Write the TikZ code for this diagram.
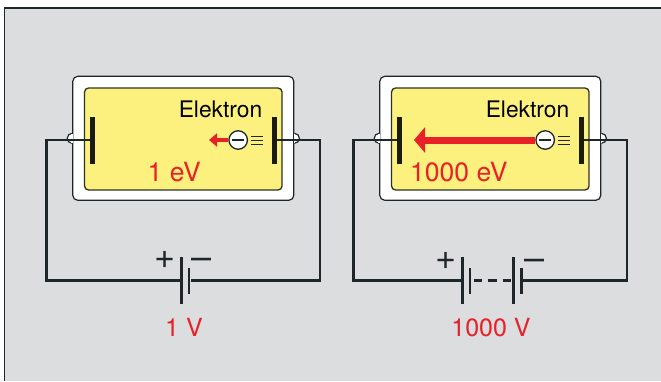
\documentclass[tikz,border=0pt]{standalone}
\usepackage{fontspec}
\setmainfont{TeX Gyre Heros}
\usetikzlibrary{arrows.meta,%
                backgrounds,positioning,%
                calc%
              }
\definecolor{panelgray}{HTML}{DCDDDF}
\definecolor{gapyellow}{HTML}{FCF17F}
\definecolor{evred}{HTML}{E82129}
\definecolor{wirec}{HTML}{1F2629}
\definecolor{platec}{HTML}{1A1A0D}

\def\cells{{(181.7,280.5)/L/1/46.5},%
  {(189,280.5)/L/2/26},%
%
  {(462.7,280.5)/R/1/46.5}, {(470,280.5)/R/2/26},%
  {(513.3,280.5)/R/3/46.5}, {(521.7,280.5)/R/4/26}%
}
\def\panels{%  \dx/\p/\energy/\ex/\tip/\aw/\al/\ah/\last/\volt
  {0/L/1 eV/147.5/209/4.5/8/13/L-b2/1 V},%
  {307/R/1000 eV/103/107/7/11/25/R-b4/1000 V}%
}

\begin{document}
\begin{tikzpicture}[x=1pt,y=-1pt,every node/.style={inner sep=0pt},
    frame/.style={rectangle, rounded corners=5pt, draw=wirec,
      line width=1.2pt, fill=white, minimum width=221pt, minimum height=124pt},
    gap/.style={rectangle, rounded corners=4pt, draw=wirec!85!olive,
      line width=1.3pt, fill=gapyellow, minimum width=197.5pt, minimum height=102pt},
    plate/.style={rectangle, fill=platec, minimum width=5pt, minimum height=47pt},
    cell/.style={rectangle, fill=wirec, minimum width=2.7pt},
    wire/.style={draw=wirec, line width=2.6pt},
    electron/.style={circle, draw=wirec, line width=1.3pt, fill=white,
      minimum size=18.5pt},
    elabel/.style={text=black, font=\fontsize{22.8}{26}\selectfont},
    redlabel/.style={text=evred, font=\fontsize{26.5}{30}\selectfont},
    sign/.style={text=wirec, font=\fontsize{36}{40}\selectfont, anchor=base}]

  \useasboundingbox (0,0) rectangle (661,381);

  \begin{pgfonlayer}{background}
    \fill[panelgray] (4.6,7.9) rectangle (661,381);
    \draw[wirec, line width=1.2pt] (4.6,381) -- (4.6,7.9) -- (661,7.9);
  \end{pgfonlayer}

  % battery cells
  \foreach \xy/\side/\num/\len in \cells {%
    \node[cell, minimum height=\len pt] (\side-b\num) at \xy {};
  }
  \draw[wire, dash pattern=on 8.5pt off 6pt, dash phase=12.5pt] (R-b2) -- (R-b3);

  \node[sign] (L-plus) at (165,268.4) {+};
  \node[sign] (L-minus) at (201.7,269.3) {–};
  \node[sign] (R-plus) at (446,269.1) {+};
  \node[sign] (R-minus) at (534.2,270) {–};

  \foreach \dx/\p/\energy/\ex/\tip/\aw/\al/\ah/\last/\volt in \panels {%
    \begin{scope}[xshift=\dx]
      \node[frame] (\p-frame) at (183.3,138.3) {};
      \foreach \s/\a/\sh in {west/90/-5, east/-90/5} {%
        \draw[wirec, line width=1.2pt, fill=white]
          ([yshift=\sh pt]\p-frame.\s) arc[start angle=\a, delta angle=180, radius=5];
        \draw[white, line width=1.5pt] ([yshift=-4.2pt]\p-frame.\s) -- ([yshift=4.2pt]\p-frame.\s);
      }
      \node[gap] (\p-gap) at (183.3,139) {};
      \node[plate] (\p-lp) at (92.3,140) {};
      \node[plate] (\p-rp) at (274.3,140) {};

      \coordinate (\p-c1) at (46.2,280.5);
      \coordinate (\p-c2) at (320,280.5);
      \draw[wire] (\p-lp) -- (\p-lp -| \p-c1) -- (\p-c1) -- (\p-b1);
      \draw[wire] (\p-rp) -- (\p-rp -| \p-c2) -- (\p-c2) -- (\last);

      % electron with its track
      \node[electron] (\p-e) at (238.2,140) {};
      \draw[wirec, line width=2.8pt] ([xshift=-5.8pt]\p-e.center) -- ([xshift=5.8pt]\p-e.center);
      \foreach \dy in {-4,0,4} {%
        \draw[wirec, line width=0.8pt] ([xshift=2.6pt,yshift=\dy pt]\p-e.east) -- ++(12.6,0);
      }
      \coordinate (\p-tip) at (\tip,140);
      \draw[evred, line width=\aw pt, -{Triangle[length=\al pt, width=\ah pt]}] (\p-e) -- (\p-tip);

      \node[elabel, anchor=base east] (\p-name) at (262.5,117.3) {Elektron};
      \node[redlabel, anchor=base west] (\p-ev) at (\ex,181.7) {\energy};
      \node[redlabel, font=\fontsize{25}{30}\selectfont, anchor=base] (\p-volt) at (184,336.3) {\volt};
    \end{scope}
  }

\end{tikzpicture}
\end{document}
